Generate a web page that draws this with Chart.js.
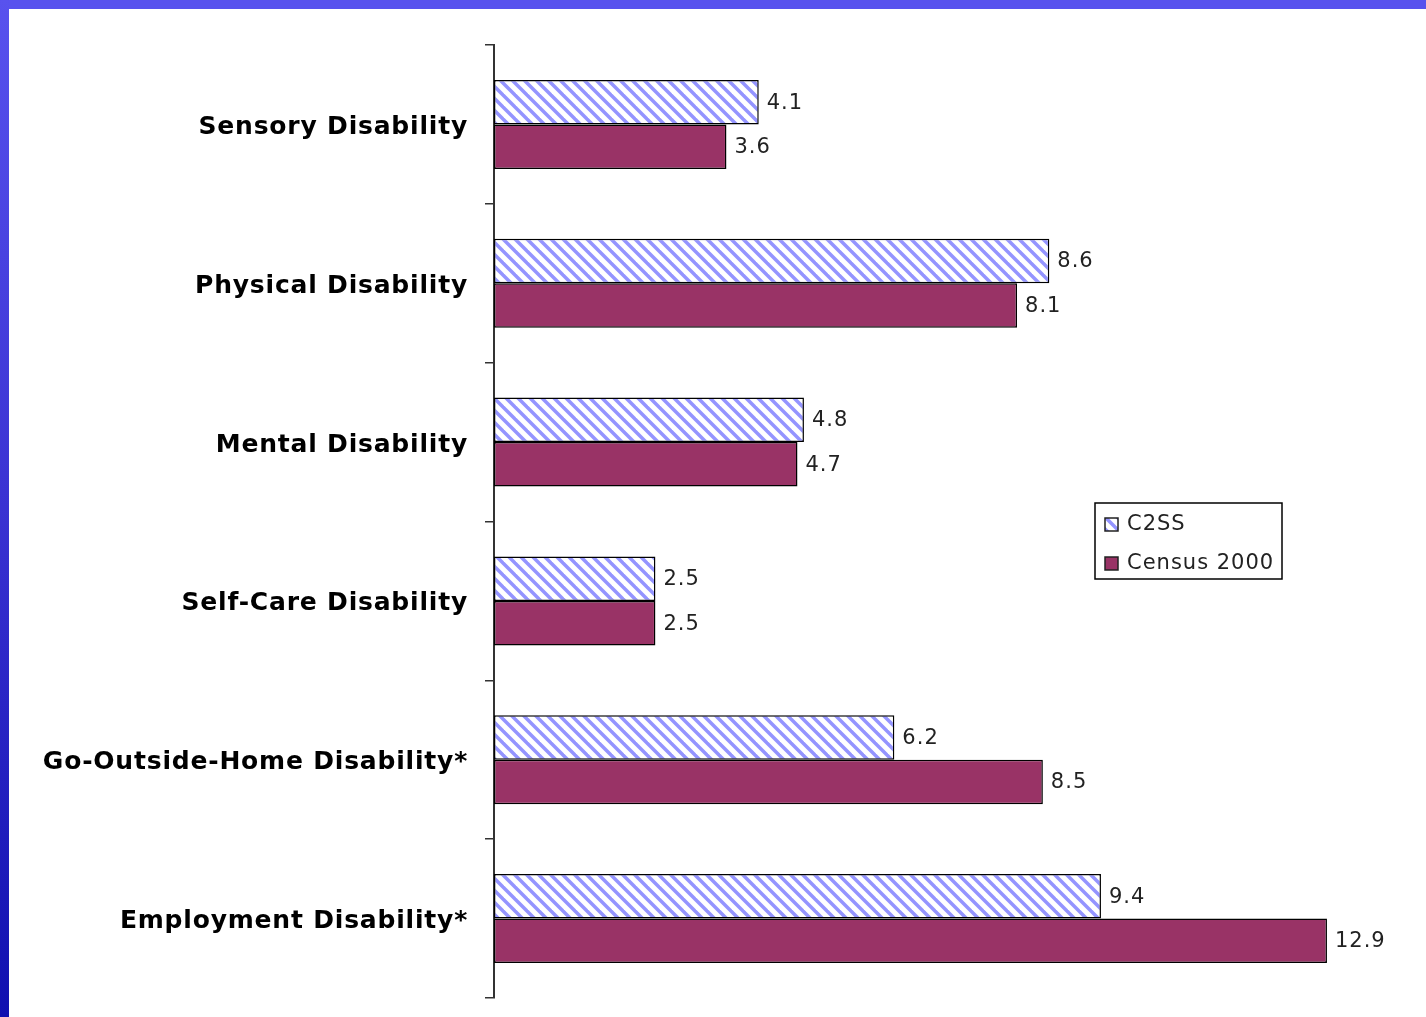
<!DOCTYPE html>
<html>
<head>
<meta charset="utf-8">
<script src="https://cdn.jsdelivr.net/npm/chart.js@4/dist/chart.umd.min.js"></script>
<style>
  html, body { margin: 0; padding: 0; background: #fff; overflow: hidden; }
  #wrap { position: relative; width: 1426px; height: 1017px; }
  #chart { position: absolute; left: 0; top: 0; }
  .top { position: absolute; left: 0; top: 0; width: 1426px; height: 9px; background: #5852ee; }
  .left { position: absolute; left: 0; top: 0; width: 9px; height: 1017px;
          background: linear-gradient(to bottom, #5852ee, #3a32d2 50%, #1010b0); }
</style>
</head>
<body>
<div id="wrap">
  <canvas id="chart" width="1426" height="1017"></canvas>
  <div class="top"></div>
  <div class="left"></div>
</div>
<script>
// DATA

const categories = ['Sensory Disability', 'Physical Disability', 'Mental Disability',
  'Self-Care Disability', 'Go-Outside-Home Disability*', 'Employment Disability*'];
const c2ss = [4.1, 8.6, 4.8, 2.5, 6.2, 9.4];
const census2000 = [3.6, 8.1, 4.7, 2.5, 8.5, 12.9];
const seriesNames = ['C2SS', 'Census 2000'];

// HATCH PATTERN

const tile = document.createElement('canvas');
tile.width = 12;
tile.height = 12;
const t = tile.getContext('2d');
t.fillStyle = '#fff';
t.fillRect(0, 0, 12, 12);
t.strokeStyle = '#9494ff';
t.lineWidth = 3.5;
[-12, 0, 12].forEach(c => {
  t.beginPath();
  t.moveTo(c - 2, -2);
  t.lineTo(c + 14, 14);
  t.stroke();
});
const ctx = document.getElementById('chart').getContext('2d');
const hatch = ctx.createPattern(tile, 'repeat');

// PLUGINS

const spacing = {
  id: 'spacing',
  beforeDraw(chart) { chart.ctx.letterSpacing = '0.8px'; }
};

const valueLabels = {
  id: 'valueLabels',
  afterDatasetsDraw(chart) {
    const c = chart.ctx;
    c.save();
    c.letterSpacing = '1px';
    c.font = '21px "DejaVu Sans"';
    c.fillStyle = '#222';
    c.textAlign = 'left';
    c.textBaseline = 'middle';
    chart.data.datasets.forEach((ds, i) => {
      chart.getDatasetMeta(i).data.forEach((bar, j) => {
        c.fillText(ds.data[j].toFixed(1), bar.x + 8, bar.y + 1);
      });
    });
    c.restore();
  }
};

const boxLegend = {
  id: 'boxLegend',
  afterDraw(chart) {
    const c = chart.ctx;
    c.save();
    c.letterSpacing = '1px';
    c.lineWidth = 1.5;
    c.strokeStyle = '#000';
    c.fillStyle = '#fff';
    c.fillRect(1095, 503, 187, 76);
    c.strokeRect(1095, 503, 187, 76);
    c.font = '21px "DejaVu Sans"';
    c.textBaseline = 'middle';
    chart.data.datasets.forEach((ds, i) => {
      const y = 524 + i * 39;
      c.fillStyle = ds.backgroundColor;
      c.fillRect(1105, y - 6, 13, 13);
      c.strokeStyle = '#222';
      c.lineWidth = 1.5;
      c.strokeRect(1105, y - 6, 13, 13);
      c.fillStyle = '#222';
      c.fillText(ds.label, 1127, y + 1);
    });
    c.restore();
  }
};

// CHART

const chart = new Chart(ctx, {
  type: 'bar',
  data: {
    labels: categories,
    datasets: [{
      label: seriesNames[0],
      data: c2ss,
      backgroundColor: hatch,
      borderColor: '#000',
      borderWidth: 1.5,
      borderSkipped: false
    }, {
      label: seriesNames[1],
      data: census2000,
      backgroundColor: '#993366',
      borderColor: '#000',
      borderWidth: 1.5,
      borderSkipped: false
    }]
  },
  options: {
    indexAxis: 'y',
    responsive: false,
    animation: false,
    devicePixelRatio: 1,
    layout: { padding: { left: 0, top: 45, right: 28, bottom: 19 } },
    datasets: { bar: { categoryPercentage: 0.56, barPercentage: 1.0 } },
    plugins: {
      legend: { display: false },
      tooltip: { enabled: false }
    },
    scales: {
      x: { display: false, min: 0, max: 14 },
      y: {
        afterFit(scale) {
          scale.width = 494;
          scale.paddingTop = 0;
          scale.paddingBottom = 0;
        },
        grid: {
          drawOnChartArea: false,
          drawTicks: true,
          tickLength: 9,
          color: '#333',
          lineWidth: 1.5
        },
        border: { display: true, color: '#333', width: 2 },
        ticks: {
          padding: 17,
          labelOffset: 3,
          color: '#000',
          font: { family: 'DejaVu Sans', weight: 'bold', size: 25 }
        }
      }
    }
  },
  plugins: [spacing, valueLabels, boxLegend]
});
</script>
</body>
</html>
